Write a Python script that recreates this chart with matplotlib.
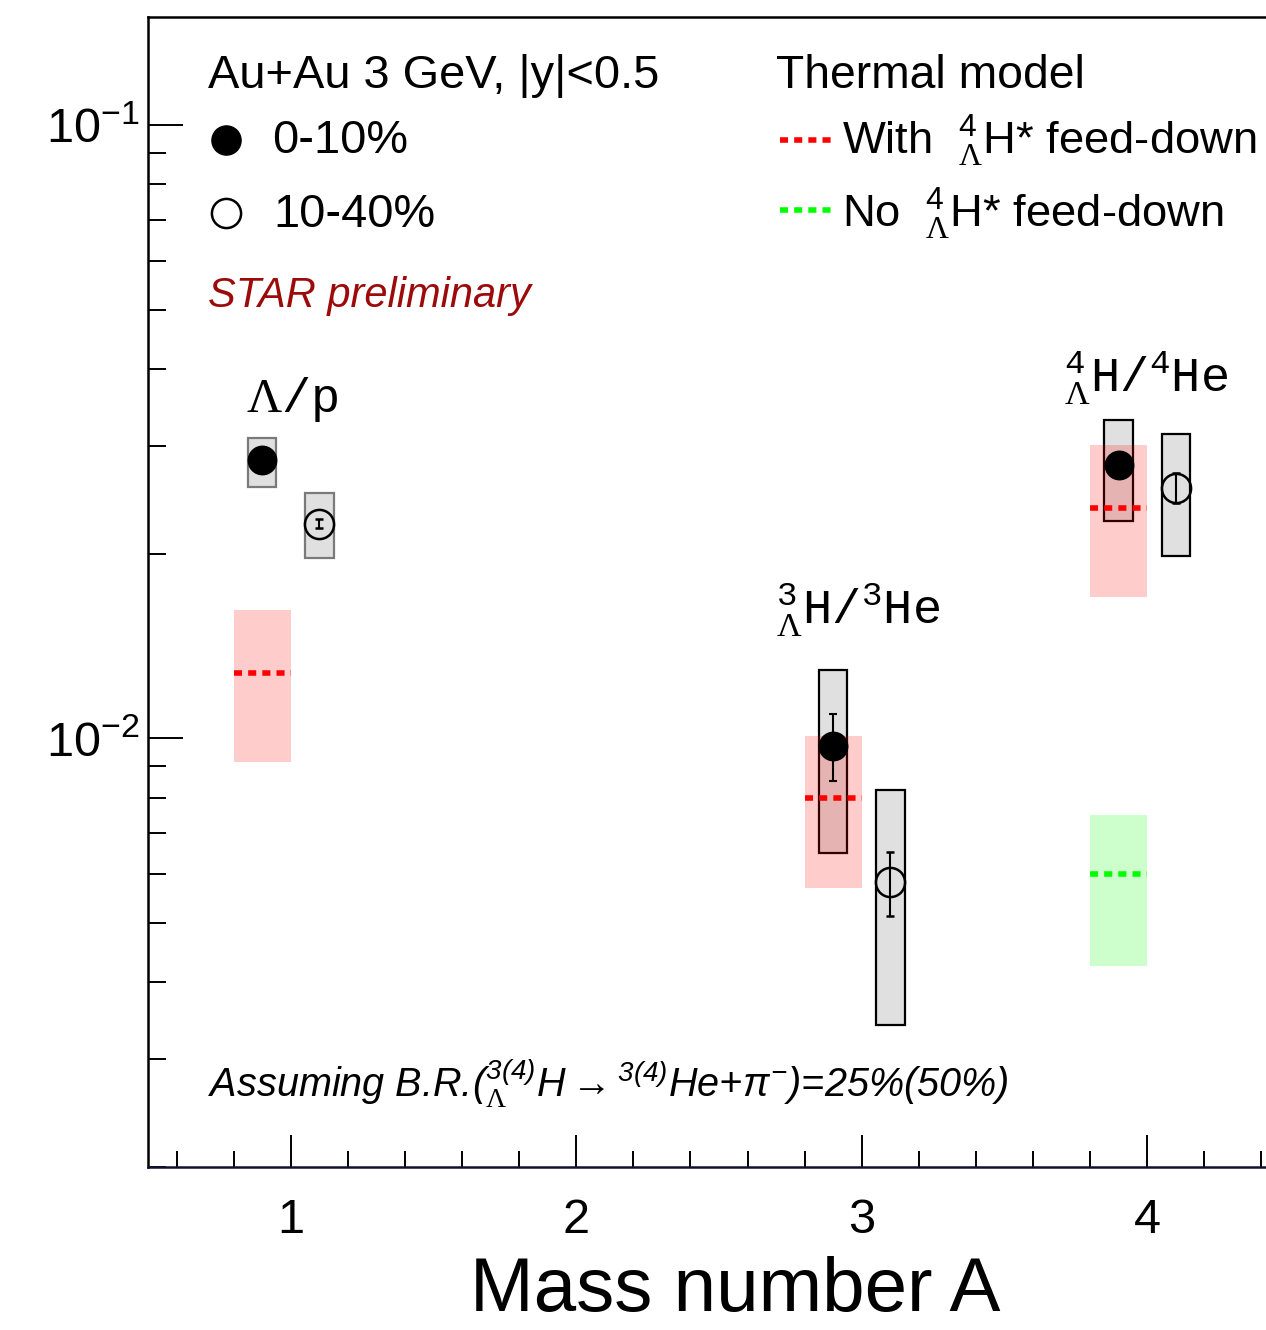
import matplotlib
matplotlib.use('Agg')
from matplotlib import pyplot
from matplotlib.patches import Rectangle
from matplotlib.ticker import MultipleLocator, LogLocator, NullFormatter
import numpy as np

matplotlib.rcParams['font.family'] = ['Liberation Sans', 'DejaVu Sans']
matplotlib.rcParams['mathtext.fontset'] = 'custom'
matplotlib.rcParams['mathtext.rm'] = 'Liberation Serif'
matplotlib.rcParams['mathtext.it'] = 'Liberation Sans:italic'
matplotlib.rcParams['mathtext.sf'] = 'Liberation Sans'
matplotlib.rcParams['mathtext.tt'] = 'Liberation Mono'
# bf slot used for italic sans digits in the footnote
matplotlib.rcParams['mathtext.bf'] = 'Liberation Sans:italic'

####
# data

# 0-10% centrality
x_c0 = [0.9, 2.9, 3.9]
y_c0 = [0.0284, 0.0097, 0.0279]
stat_lo_c0 = [0.0281, 0.00851, 0.0270]
stat_hi_c0 = [0.0287, 0.01094, 0.0288]
sys_lo_c0 = [0.0257, 0.0065, 0.0226]
sys_hi_c0 = [0.0309, 0.01294, 0.0330]

# 10-40% centrality
x_c1 = [1.1, 3.1, 4.1]
y_c1 = [0.0224, 0.00583, 0.0256]
stat_lo_c1 = [0.02206, 0.00513, 0.0242]
stat_hi_c1 = [0.02274, 0.00652, 0.0271]
sys_lo_c1 = [0.0197, 0.00341, 0.0198]
sys_hi_c1 = [0.0251, 0.00823, 0.0314]

# thermal model, with feed-down (red)
model_x0 = [0.8, 2.8, 3.8]
model_x1 = [1.0, 3.0, 4.0]
model_red = [0.0128, 0.00798, 0.02377]
model_red_lo = [0.00914, 0.0057, 0.0170]
model_red_hi = [0.0162, 0.01007, 0.0301]

# thermal model, no feed-down (green), A=4 only
model_grn_x0 = [3.8]
model_grn_x1 = [4.0]
model_grn = [0.00601]
model_grn_lo = [0.00426]
model_grn_hi = [0.0075]

ratio_labels = [r'$\Lambda\mathtt{/p}$',
                r'${}^{\mathtt{3}}_{\Lambda}\mathtt{H/}{}^{\mathtt{3}}\mathtt{He}$',
                r'${}^{\mathtt{4}}_{\Lambda}\mathtt{H/}{}^{\mathtt{4}}\mathtt{He}$']
ratio_label_x = [0.842, 2.70, 3.707]
ratio_label_y = [0.0340, 0.01534, 0.0367]

xticks = [1, 2, 3, 4]
yticks = [0.01, 0.1]
ytick_labels = [r'$\mathsf{10^{-2}}$', r'$\mathsf{10^{-1}}$']

BOX_HW = 0.05
DASH = (0, (1.45, 1.1))

############
#
# visualization
#
fig = pyplot.figure(figsize=(12.66, 13.30), dpi=100)
ax = fig.add_axes([148/1266, 163/1330, 1142/1266, 1150/1330])
ax.set_yscale('log')
ax.set_xlim(0.5, 4.5)
ax.set_ylim(0.002, 0.15)

# systematic boxes
edge_cols = ['#7a7a7a', 'k', 'k']
for xs, lo, hi in [(x_c0, sys_lo_c0, sys_hi_c0), (x_c1, sys_lo_c1, sys_hi_c1)]:
    for i in range(len(xs)):
        ax.add_patch(Rectangle((xs[i]-BOX_HW, lo[i]), 2*BOX_HW, hi[i]-lo[i],
                               facecolor='#e0e0e0', edgecolor=edge_cols[i], lw=1.6, zorder=2))

# model bands
for i in range(len(model_red)):
    ax.fill_between([model_x0[i], model_x1[i]], model_red_lo[i], model_red_hi[i],
                    color='#ff0000', alpha=0.2, lw=0, zorder=3)
    ax.plot([model_x0[i], model_x1[i]], [model_red[i]]*2, color='#ff0000', lw=4, ls=DASH, zorder=4)
for i in range(len(model_grn)):
    ax.fill_between([model_grn_x0[i], model_grn_x1[i]], model_grn_lo[i], model_grn_hi[i],
                    color='#00ff00', alpha=0.2, lw=0, zorder=3)
    ax.plot([model_grn_x0[i], model_grn_x1[i]], [model_grn[i]]*2, color='#00ff00', lw=4, ls=DASH, zorder=4)

# data points
y0 = np.array(y_c0)
y1 = np.array(y_c1)
ax.errorbar(x_c0, y0, yerr=[y0-np.array(stat_lo_c0), np.array(stat_hi_c0)-y0],
            fmt='o', ms=20.5, color='k', mfc='k', elinewidth=1.5, capsize=2.6, capthick=1.5, zorder=5)
ax.errorbar(x_c1, y1, yerr=[y1-np.array(stat_lo_c1), np.array(stat_hi_c1)-y1],
            fmt='o', ms=21, color='k', mfc='none', mew=1.8, elinewidth=1.5, capsize=2.6, capthick=1.5, zorder=5)

for lab, lx, ly in zip(ratio_labels, ratio_label_x, ratio_label_y):
    ax.text(lx, ly, lab, fontsize=35, ha='left', va='baseline')

# axes styling
ax.set_xticks(xticks)
ax.set_xticklabels([str(t) for t in xticks])
ax.xaxis.set_minor_locator(MultipleLocator(0.2))
ax.set_yticks(yticks)
ax.set_yticklabels(ytick_labels)
ax.yaxis.set_minor_locator(LogLocator(base=10, subs=np.arange(2, 10)))
ax.yaxis.set_minor_formatter(NullFormatter())

ax.tick_params(axis='both', which='both', direction='in', width=1.4, top=False, right=False)
ax.tick_params(axis='x', which='major', length=23, labelsize=35, pad=22)
ax.tick_params(axis='x', which='minor', length=11.5)
ax.tick_params(axis='y', which='major', length=25, labelsize=35, pad=6)
ax.tick_params(axis='y', which='minor', length=13)

for s in ['left', 'top', 'bottom']:
    ax.spines[s].set_linewidth(1.8)
ax.spines['bottom'].set_color('#111133')

ax.set_xlabel('Mass number A', fontsize=55)
ax.xaxis.label.set_va('baseline')
ax.xaxis.set_label_coords(0.514, -0.1255)

# legend by hand
T = ax.transAxes
ax.text(0.0525, 0.938, 'Au+Au 3 GeV, |y|<0.5', transform=T, fontsize=33.8, va='baseline')
ax.plot([0.0683], [0.893], 'o', ms=21, color='k', transform=T, clip_on=False)
ax.plot([0.0683], [0.830], 'o', ms=21, color='k', mfc='none', mew=1.8, transform=T, clip_on=False)
ax.text(0.1086, 0.8817, '0-10%', transform=T, fontsize=33.8, va='baseline')
ax.text(0.1095, 0.8174, '10-40%', transform=T, fontsize=33.8, va='baseline')
ax.text(0.0525, 0.748, 'STAR preliminary', transform=T, fontsize=30, style='italic',
        color='#9c0a0a', va='baseline')

ax.text(0.55, 0.938, 'Thermal model', transform=T, fontsize=33.3, va='baseline')
ax.plot([0.553, 0.599], [0.893, 0.893], color='#ff0000', lw=4, ls=DASH, transform=T)
ax.plot([0.553, 0.599], [0.832, 0.832], color='#00ff00', lw=4, ls=DASH, transform=T)
ax.text(0.6077, 0.880, r'With  ${}^{\mathsf{4}}_{\Lambda}\mathsf{H}$* feed-down', transform=T,
        fontsize=32.7, va='baseline')
ax.text(0.6077, 0.817, r'No  ${}^{\mathsf{4}}_{\Lambda}\mathsf{H}$* feed-down', transform=T,
        fontsize=32.7, va='baseline')

ax.text(0.0525, 0.0609,
        r'Assuming B.R.(${}^{\mathbf{3(4)}}_{\Lambda}$H${\rightarrow}{}^{\mathbf{3(4)}}$He+$\pi^{\mathbf{-}}$)=25%(50%)',
        transform=T, fontsize=28.5, style='italic', va='baseline')

fig.savefig('out.png', dpi=100)
